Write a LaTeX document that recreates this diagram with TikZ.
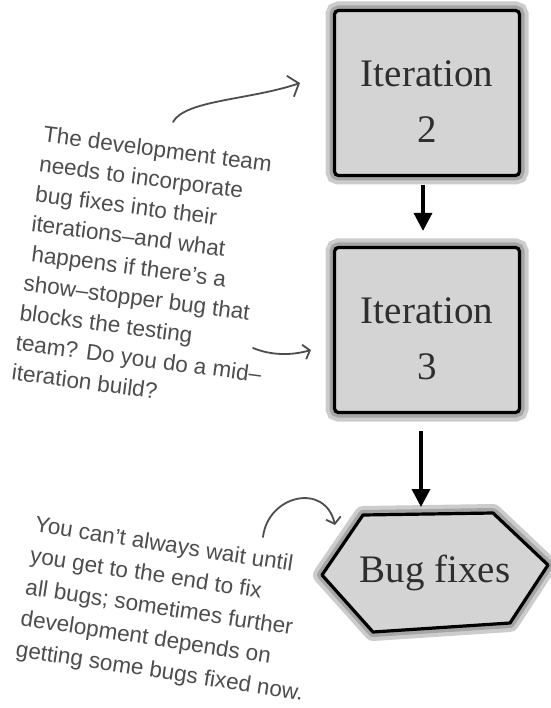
\documentclass[tikz,border=0pt]{standalone}
\usepackage{fontspec}
\setmainfont{Liberation Serif}
\newfontfamily\handfont{Liberation Sans}
\usetikzlibrary{arrows.meta,calc}
\definecolor{handgray}{HTML}{4D4D4D}
\definecolor{boxfill}{HTML}{D4D4D4}
\definecolor{halo}{HTML}{8E8E8E}
\definecolor{boxtext}{HTML}{2E2E2E}
\begin{document}
\begin{tikzpicture}[x=1pt,y=-1pt,
  handnote/.style={font=\handfont\fontsize{22.5}{30}\selectfont, text=handgray, anchor=north west, align=left, inner sep=0pt},
  boxlabel/.style={font=\fontsize{39}{56}\selectfont, text=boxtext, align=center, inner sep=0pt},
  iterbox/.style={minimum width=185pt, minimum height=165pt, fill=boxfill,
    draw=black, line width=3.2pt, rounded corners=4pt,
    preaction={draw=halo!45, line width=18pt, rounded corners=8pt},
    preaction={draw=halo!80, line width=10pt, rounded corners=6pt}},
  hexshape/.style={fill=boxfill, draw=black, line width=3.2pt, line join=round,
    preaction={draw=halo!45, line width=18pt, line join=round},
    preaction={draw=halo!80, line width=10pt, line join=round}},
  flowarrow/.style={line width=3.5pt, -{Triangle[length=18pt,width=18pt]}},
  notearrow/.style={handgray, line width=1.8pt, line cap=round, -{Straight Barb[length=9pt,width=22pt]}},
  smallnote/.style={handgray, line width=1.8pt, line cap=round, -{Straight Barb[length=6pt,width=15pt]}},
]
\useasboundingbox[fill=white] (0,0) rectangle (550,708);

% boxes
\node[iterbox] (it2) at (427,93) {};
\node[boxlabel] (it2label) at ($(it2.center)+(0,9)$) {Iteration\\2};
\node[iterbox] (it3) at (427,330) {};
\node[boxlabel] (it3label) at ($(it3.center)+(0,9)$) {Iteration\\3};

% hexagon
\coordinate (bugc) at (435,573);
\path[hexshape] ($(bugc)+(-72,-58)$) -- ($(bugc)+(58,-60)$) -- ($(bugc)+(113,-8)$)
  -- ($(bugc)+(75,50)$) -- ($(bugc)+(-62,59)$) -- ($(bugc)+(-113,2)$) -- cycle;
\node[boxlabel] (bug) at (bugc) {Bug fixes};
\coordinate (hextop) at (421,514);

% flow arrows
\draw[flowarrow, shorten <=8pt, shorten >=15pt] ([xshift=-4pt]it2.south) -- ([xshift=-4pt]it3.north);
\draw[flowarrow, shorten <=17pt, shorten >=7pt] ([xshift=-6pt]it3.south) -- (hextop);

% upper note
\node[handnote, rotate=-7.5] (upper) at (44.5,125.5) {The development team\\
needs to incorporate\\
bug fixes into their\\
iterations–and what\\
\hspace*{4pt}happens if there’s a\\
show–stopper bug that\\
blocks the testing\\
team? Do you do a mid–\\
iteration build?};

% lower note
\node[handnote, rotate=-8.7, font=\handfont\fontsize{22.5}{31.5}\selectfont] (lower) at (36.5,515.5) {You can’t always wait until\\
you get to the end to fix\\
all bugs; sometimes further\\
development depends on\\
getting some bugs fixed now.};

% note arrows
\coordinate (n1s) at (173,122);
\coordinate (n1e) at (300,83);
\draw[notearrow] (n1s) .. controls (185,100) and (250,100) .. (n1e);
\coordinate (n2s) at (253,348);
\coordinate (n2e) at (311,350);
\draw[smallnote] (n2s) .. controls (270,355) and (290,356) .. (n2e);
\coordinate (n3s) at (263,537);
\coordinate (n3e) at (335,525);
\draw[smallnote] (n3s) .. controls (268,495) and (325,482) .. (n3e);
\end{tikzpicture}
\end{document}
